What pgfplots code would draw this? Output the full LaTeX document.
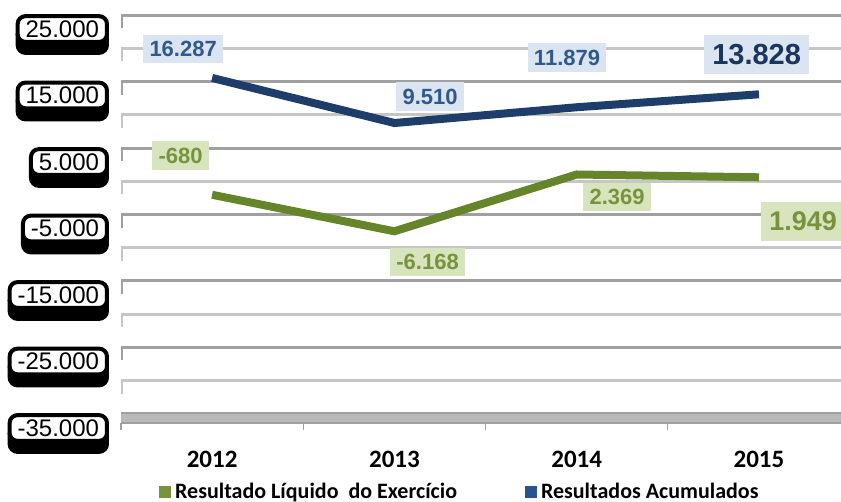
\documentclass[border=0pt]{standalone}
\usepackage{fontspec}
\setmainfont{Liberation Sans}
\newfontfamily\calibri{Carlito}
\usepackage{pgfplots}
\pgfplotsset{compat=1.18}
\usetikzlibrary{shadows}

\definecolor{netline}{RGB}{102,133,42}
\definecolor{accline}{RGB}{31,61,106}
\definecolor{netleg}{RGB}{119,147,60}
\definecolor{accleg}{RGB}{42,82,145}
\definecolor{netfill}{RGB}{215,228,189}
\definecolor{accfill}{RGB}{219,229,241}
\definecolor{nettext}{RGB}{119,147,60}
\definecolor{acctext}{RGB}{47,88,140}
\definecolor{accdark}{RGB}{27,54,93}
\definecolor{gridmaj}{RGB}{160,160,160}
\definecolor{gridmin}{RGB}{198,198,198}

\begin{document}
\begin{tikzpicture}
\begin{axis}[
  name=ax,
  scale only axis,
  width=360pt, height=199.5pt,
  xmin=-0.5, xmax=3.45,
  ymin=-35000, ymax=25000,
  clip=false,
  scaled y ticks=false,
  axis line style={draw=none},
  major tick length=0pt, minor tick length=0pt,
  xtick={0,1,2,3},
  xticklabels={2012,2013,2014,2015},
  xticklabel style={font=\calibri\bfseries\fontsize{12.5}{14}\selectfont, yshift=-15pt},
  ytick={-35000,-25000,-15000,-5000,5000,15000,25000},
  yticklabels={-35.000,-25.000,-15.000,-5.000,5.000,15.000,25.000},
  minor ytick={-30000,-20000,-10000,0,10000,20000},
  ymajorgrids, yminorgrids,
  major grid style={gridmaj, line width=1.5pt},
  minor grid style={gridmin, line width=1.5pt},
  yticklabel style={font=\fontsize{12}{14}\selectfont, anchor=east,
    xshift=-6pt, yshift=-7pt, fill=white, draw=black, line width=2pt,
    rounded corners=4pt, inner xsep=4pt, inner ysep=2.2pt,
    general shadow={shadow yshift=-5.5pt, fill=black, draw=black, line width=2pt}},
  legend image code/.code={\fill[#1] (0pt,-3pt) rectangle (6pt,3pt);},
  legend columns=2,
  legend style={at={(0.472,-0.196)}, anchor=center, draw=none, fill=none,
    font=\calibri\bfseries\fontsize{11}{13}\selectfont,
    /tikz/every even column/.append style={column sep=32pt}},
]

% floor of the 3D wall
\fill[gray!55] (axis cs:-0.5,-35000) rectangle ([yshift=-4.5pt]axis cs:3.45,-35000);
\draw[gridmaj, line width=0.6pt] ([yshift=-4.5pt]axis cs:-0.5,-35000) -- ([yshift=-4.5pt]axis cs:3.45,-35000);
\pgfplotsinvokeforeach{-0.5,0.5,1.5,2.5}{
  \draw[gridmaj, line width=0.6pt] ([yshift=-4.5pt]axis cs:#1,-35000) -- ++(0pt,-3.5pt);
}
% little edges at the left end of the gridlines
\pgfplotsinvokeforeach{-25000,-15000,-5000,5000,15000,25000}{
  \draw[gridmaj, line width=1pt] ([xshift=0.5pt]axis cs:-0.5,#1) -- ++(0pt,-6.5pt);
}
\pgfplotsinvokeforeach{-30000,-20000,-10000,0,10000,20000}{
  \draw[gridmin, line width=1pt] ([xshift=0.5pt]axis cs:-0.5,#1) -- ++(0pt,-6.5pt);
}

\addplot[forget plot, accline, line width=4pt, yshift=-2.5pt] coordinates {
  (0,16287) (1,9510) (2,11879) (3,13828)
};
\addplot[forget plot, netline, line width=4pt, yshift=-4.5pt] coordinates {
  (0,-680) (1,-6168) (2,2369) (3,1949)
};

\addlegendimage{fill=netleg, draw=none}
\addlegendentry{Resultado Líquido\ \ do Exercício}
\addlegendimage{fill=accleg, draw=none}
\addlegendentry{Resultados Acumulados}

% data labels
\tikzset{acclab/.style={fill=accfill, text=acctext, font=\bfseries\fontsize{11}{13}\selectfont, inner xsep=3.2pt, inner ysep=3.3pt},
         netlab/.style={fill=netfill, text=nettext, font=\bfseries\fontsize{11}{13}\selectfont, inner xsep=3.2pt, inner ysep=3.3pt}}
\node[acclab] at (axis cs:-0.159,19887) {16.287};
\node[acclab] at (axis cs:1.196,12744) {9.510};
\node[acclab] at (axis cs:1.947,18609) {11.879};
\node[acclab, text=accdark, font=\bfseries\fontsize{14.5}{16}\selectfont, inner xsep=4pt, inner ysep=4.5pt] at (axis cs:2.987,19060) {13.828};
\node[netlab] at (axis cs:-0.173,3872) {-680};
\node[netlab] at (axis cs:1.182,-12144) {-6.168};
\node[netlab] at (axis cs:2.222,-2369) {2.369};
\node[netlab, font=\bfseries\fontsize{13.5}{16}\selectfont, inner xsep=4pt, inner ysep=4.8pt] at (axis cs:3.242,-6053) {1.949};
\end{axis}
\path (ax.south west) ++(-60.5pt,-44pt) coordinate (bbl);
\path (ax.north east) ++(0pt,7.5pt) coordinate (btr);
\pgfresetboundingbox
\useasboundingbox (bbl) rectangle (btr);
\end{tikzpicture}
\end{document}
